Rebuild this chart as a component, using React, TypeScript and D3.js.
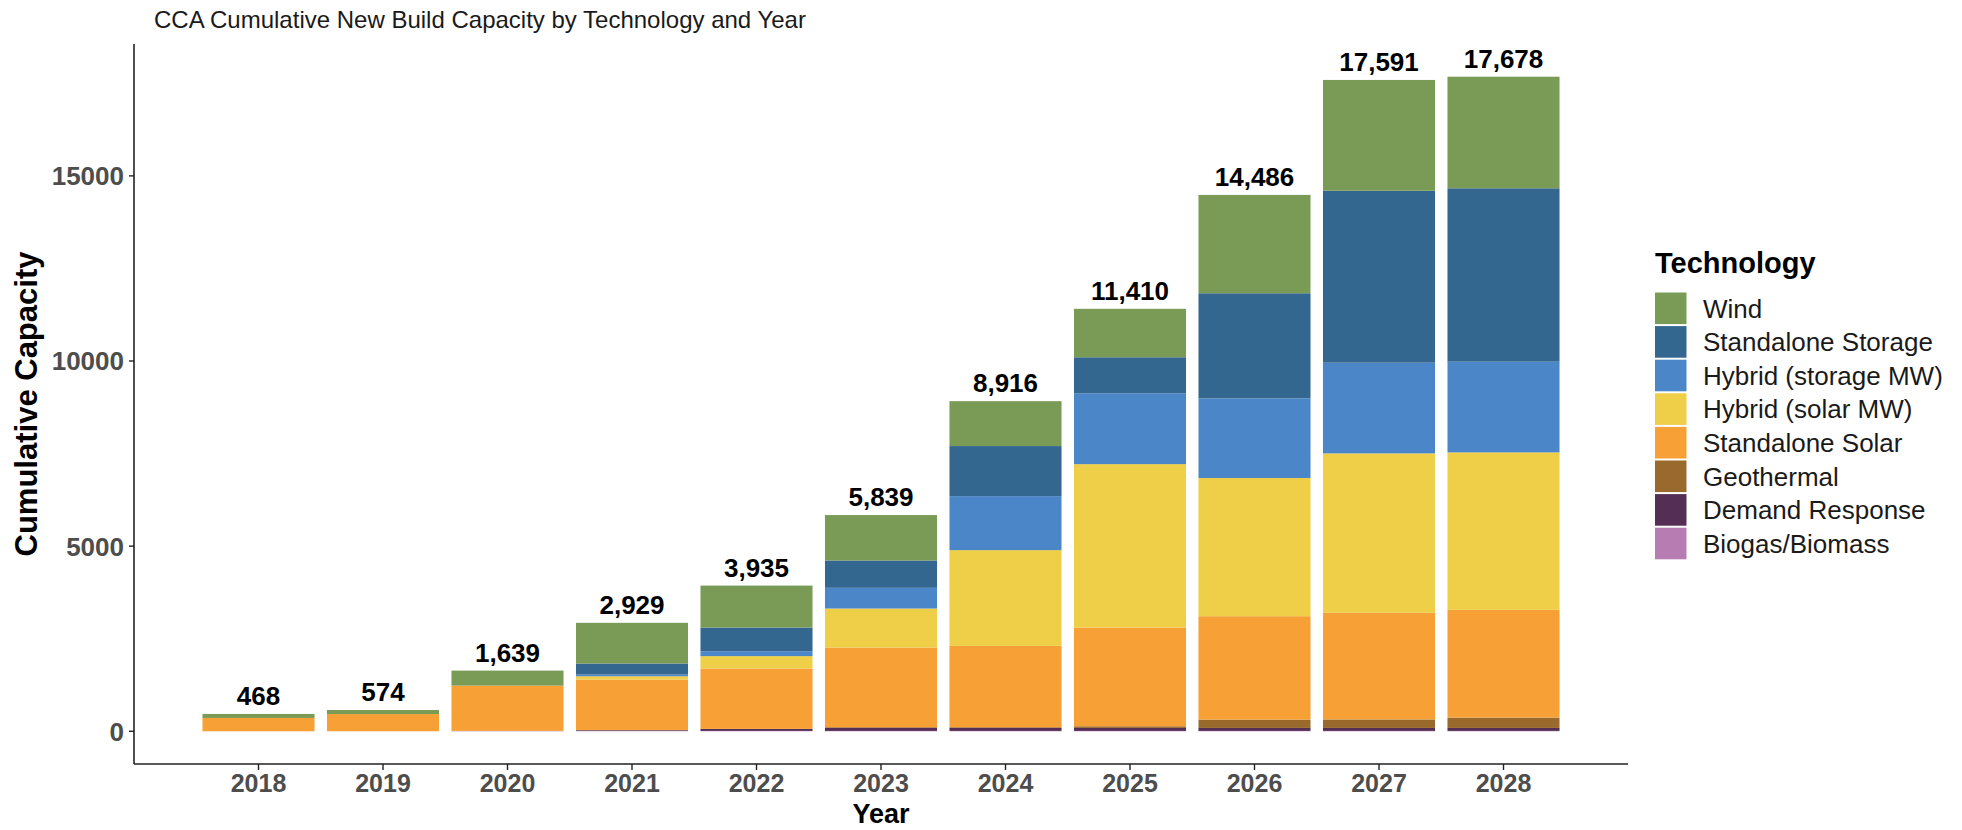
import { useEffect, useRef } from 'react';
import * as d3 from 'd3';

const years = ['2018', '2019', '2020', '2021', '2022', '2023', '2024', '2025', '2026', '2027', '2028'];

// cumulative MW by technology, bottom of the stack first
const biogas = [0, 0, 10, 10, 10, 10, 10, 10, 10, 10, 10];
const demandResponse = [0, 0, 0, 20, 55, 80, 80, 80, 80, 80, 80];
const geothermal = [0, 0, 0, 0, 0, 20, 20, 45, 226, 230, 280];
const standaloneSolar = [360, 465, 1224, 1367, 1629, 2151, 2196, 2665, 2792, 2880, 2910];
const hybridSolar = [0, 0, 0, 89, 336, 1054, 2586, 4415, 3732, 4305, 4252];
const hybridStorage = [0, 0, 0, 46, 132, 559, 1459, 1913, 2152, 2449, 2449];
const standaloneStorage = [0, 0, 0, 298, 640, 739, 1352, 973, 2838, 4644, 4684];
const wind = [108, 109, 405, 1099, 1133, 1226, 1213, 1309, 2656, 2993, 3013];

const totals = [468, 574, 1639, 2929, 3935, 5839, 8916, 11410, 14486, 17591, 17678];

const yTicks = [0, 5000, 10000, 15000];

// legend order (top to bottom) = stack order reversed
const techs = [
  { key: 'Wind', values: wind, color: '#7a9b56' },
  { key: 'Standalone Storage', values: standaloneStorage, color: '#34678f' },
  { key: 'Hybrid (storage MW)', values: hybridStorage, color: '#4b87c8' },
  { key: 'Hybrid (solar MW)', values: hybridSolar, color: '#efce48' },
  { key: 'Standalone Solar', values: standaloneSolar, color: '#f6a035' },
  { key: 'Geothermal', values: geothermal, color: '#996a2c' },
  { key: 'Demand Response', values: demandResponse, color: '#552e56' },
  { key: 'Biogas/Biomass', values: biogas, color: '#b77db2' },
];

const FONT = '"Liberation Sans", Arial, Helvetica, sans-serif';

export default function App() {
  const svgRef = useRef<SVGSVGElement>(null);

  useEffect(() => {
    if (!svgRef.current) return;
    const svg = d3.select(svgRef.current);
    svg.selectAll('*').remove();

    const width = 1962;
    const height = 830;
    const left = 134;
    const right = 1628;
    const top = 44;
    const bottom = 764;

    const x = d3.scalePoint<string>().domain(years).range([left, right]).padding(1);
    const barW = x.step() * 0.9;

    const yMax = d3.max(totals) as number;
    const y = d3
      .scaleLinear()
      .domain([-yMax * 0.05, yMax * 1.05])
      .range([bottom, top]);

    svg.append('rect').attr('width', width).attr('height', height).attr('fill', '#ffffff');

    // title
    svg
      .append('text')
      .attr('x', 154)
      .attr('y', 28)
      .attr('font-family', FONT)
      .attr('font-size', 24)
      .attr('fill', '#1a1a1a')
      .text('CCA Cumulative New Build Capacity by Technology and Year');

    // stacked bars
    const stackOrder = [...techs].reverse();
    const table = years.map((yr, i) => {
      const row: Record<string, number | string> = { year: yr };
      stackOrder.forEach((t) => (row[t.key] = t.values[i]));
      return row;
    });
    const series = d3.stack<Record<string, number | string>>().keys(stackOrder.map((t) => t.key))(table as any);

    const g = svg.append('g');
    series.forEach((s, si) => {
      g.selectAll(`.seg-${si}`)
        .data(s)
        .enter()
        .append('rect')
        .attr('x', (d) => (x(d.data.year as string) as number) - barW / 2)
        .attr('width', barW)
        .attr('y', (d) => y(d[1]))
        .attr('height', (d) => Math.max(0, y(d[0]) - y(d[1])))
        .attr('fill', stackOrder[si].color);
    });

    // total labels
    svg
      .selectAll('.total')
      .data(totals)
      .enter()
      .append('text')
      .attr('x', (_, i) => x(years[i]) as number)
      .attr('y', (d) => y(d) - 9)
      .attr('text-anchor', 'middle')
      .attr('font-family', FONT)
      .attr('font-weight', 'bold')
      .attr('font-size', 26)
      .attr('fill', '#000')
      .text((d) => d3.format(',')(d));

    // axes
    const axisColor = '#222';
    svg.append('line').attr('x1', left).attr('x2', left).attr('y1', top).attr('y2', bottom).attr('stroke', axisColor).attr('stroke-width', 1.6);
    svg.append('line').attr('x1', left).attr('x2', right).attr('y1', bottom).attr('y2', bottom).attr('stroke', axisColor).attr('stroke-width', 1.6);

    yTicks.forEach((t) => {
      svg.append('line').attr('x1', left - 5).attr('x2', left).attr('y1', y(t)).attr('y2', y(t)).attr('stroke', axisColor).attr('stroke-width', 1.4);
      svg
        .append('text')
        .attr('x', left - 10)
        .attr('y', y(t))
        .attr('dy', '0.36em')
        .attr('text-anchor', 'end')
        .attr('font-family', FONT)
        .attr('font-weight', 'bold')
        .attr('font-size', 26)
        .attr('fill', '#4d4d4d')
        .text(String(t));
    });

    years.forEach((yr) => {
      const cx = x(yr) as number;
      svg.append('line').attr('x1', cx).attr('x2', cx).attr('y1', bottom).attr('y2', bottom + 6).attr('stroke', axisColor).attr('stroke-width', 1.4);
      svg
        .append('text')
        .attr('x', cx)
        .attr('y', 792)
        .attr('text-anchor', 'middle')
        .attr('font-family', FONT)
        .attr('font-weight', 'bold')
        .attr('font-size', 25)
        .attr('fill', '#4d4d4d')
        .text(yr);
    });

    // axis titles
    svg
      .append('text')
      .attr('x', (left + right) / 2)
      .attr('y', 823)
      .attr('text-anchor', 'middle')
      .attr('font-family', FONT)
      .attr('font-weight', 'bold')
      .attr('font-size', 27)
      .attr('fill', '#000')
      .text('Year');

    svg
      .append('text')
      .attr('transform', `translate(${37},${(top + bottom) / 2}) rotate(-90)`)
      .attr('text-anchor', 'middle')
      .attr('font-family', FONT)
      .attr('font-weight', 'bold')
      .attr('font-size', 31)
      .attr('fill', '#000')
      .text('Cumulative Capacity');

    // legend
    const lg = svg.append('g').attr('transform', 'translate(1655,0)');
    lg.append('text')
      .attr('x', 0)
      .attr('y', 273)
      .attr('font-family', FONT)
      .attr('font-weight', 'bold')
      .attr('font-size', 29)
      .attr('fill', '#000')
      .text('Technology');

    const keyH = 33.6;
    techs.forEach((t, i) => {
      const ky = 291.5 + i * keyH;
      lg.append('rect')
        .attr('x', 0)
        .attr('y', ky + 1)
        .attr('width', 31.5)
        .attr('height', keyH - 2)
        .attr('fill', t.color);
      lg.append('text')
        .attr('x', 48)
        .attr('y', ky + keyH / 2)
        .attr('dy', '0.36em')
        .attr('font-family', FONT)
        .attr('font-size', 26)
        .attr('fill', '#1a1a1a')
        .text(t.key);
    });
  }, []);

  return (
    <div style={{ position: 'absolute', left: 0, top: 0 }}>
      <svg ref={svgRef} width={1962} height={830} style={{ display: 'block' }} />
    </div>
  );
}
